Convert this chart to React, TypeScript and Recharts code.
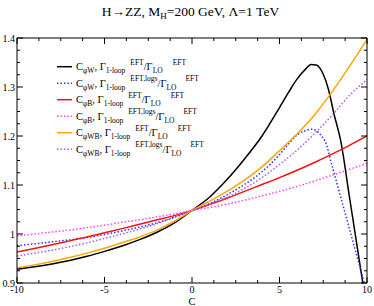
import React from 'react';
import { LineChart, Line, XAxis, YAxis } from 'recharts';

const W = 374;
const H = 306;
const SERIF = "'Liberation Serif', 'Times New Roman', serif";

// ---- data ----
const C_GRID = [-10, -9, -8, -7, -6, -5, -4, -3, -2, -1, 0, 1, 2, 3, 4, 5, 6, 7, 8, 9, 10];

const C_PHIW_1LOOP = [-10, -9, -8, -7, -6, -5, -4, -3, -2, -1, 0, 1, 2, 3, 4, 5, 5.5, 6, 6.5, 6.8, 7.1, 7.5, 7.8, 8.1, 8.5, 9, 9.5, 10];
const R_PHIW_1LOOP = [0.928, 0.933, 0.939, 0.946, 0.9545, 0.9645, 0.9755, 0.9885, 1.0035, 1.0225, 1.048, 1.075, 1.111, 1.153, 1.2, 1.258, 1.288, 1.316, 1.337, 1.346, 1.345, 1.326, 1.295, 1.247, 1.19, 1.075, 0.96, 0.845];

const C_PHIW_LOGS = [-10, -9, -8, -7, -6, -5, -4, -3, -2, -1, 0, 1, 2, 3, 4, 5, 5.5, 6, 6.5, 6.8, 7.1, 7.4, 7.6, 8, 8.5, 9, 9.5, 10];
const R_PHIW_LOGS = [0.976, 0.98, 0.984, 0.988, 0.993, 0.999, 1.006, 1.014, 1.023, 1.034, 1.048, 1.062, 1.08, 1.101, 1.127, 1.162, 1.183, 1.202, 1.211, 1.214, 1.211, 1.2, 1.19, 1.14, 1.075, 1.01, 0.945, 0.88];

const R_PHIB_1LOOP = [0.963, 0.9705, 0.978, 0.986, 0.994, 1.0025, 1.011, 1.02, 1.029, 1.0375, 1.048, 1.06, 1.073, 1.087, 1.101, 1.115, 1.13, 1.146, 1.163, 1.181, 1.2];
const R_PHIB_LOGS = [0.996, 1.0, 1.004, 1.008, 1.013, 1.018, 1.024, 1.029, 1.035, 1.041, 1.048, 1.054, 1.061, 1.069, 1.078, 1.087, 1.097, 1.108, 1.12, 1.132, 1.144];
const R_PHIWB_1LOOP = [0.931, 0.937, 0.944, 0.952, 0.961, 0.971, 0.982, 0.994, 1.008, 1.026, 1.048, 1.067, 1.087, 1.11, 1.137, 1.17, 1.204, 1.243, 1.29, 1.342, 1.397];
const R_PHIWB_LOGS = [0.955, 0.961, 0.967, 0.974, 0.982, 0.991, 1.0, 1.01, 1.021, 1.035, 1.048, 1.061, 1.075, 1.093, 1.115, 1.142, 1.171, 1.205, 1.242, 1.283, 1.315];

const X_MAJOR = [-10, -5, 0, 5, 10];
const X_MINOR = [-8.75, -7.5, -6.25, -3.75, -2.5, -1.25, 1.25, 2.5, 3.75, 6.25, 7.5, 8.75];
const Y_MAJOR = [0.9, 1.0, 1.1, 1.2, 1.3, 1.4];
const Y_MINOR = [0.925, 0.95, 0.975, 1.025, 1.05, 1.075, 1.125, 1.15, 1.175, 1.225, 1.25, 1.275, 1.325, 1.35, 1.375];

const COEFS = ['φW', 'φW', 'φB', 'φB', 'φWB', 'φWB'];
const KINDS = ['EFT', 'EFT,logs', 'EFT', 'EFT,logs', 'EFT', 'EFT,logs'];
const COLORS = ['#000000', '#2f2fff', '#ff1010', '#ff40ff', '#ffa500', '#a060f0'];
const DOTTED = [false, true, false, true, false, true];

const zip = (cs: number[], rs: number[]) => cs.map((c, i) => ({ c, r: rs[i] }));

const SERIES = [
  zip(C_PHIW_1LOOP, R_PHIW_1LOOP),
  zip(C_PHIW_LOGS, R_PHIW_LOGS),
  zip(C_GRID, R_PHIB_1LOOP),
  zip(C_GRID, R_PHIB_LOGS),
  zip(C_GRID, R_PHIWB_1LOOP),
  zip(C_GRID, R_PHIWB_LOGS),
];

// frame data so that the decoration-only axes have a domain
const FRAME = C_GRID.map((c, i) => ({ c, r: R_PHIB_LOGS[i] }));

const EmptyTick = () => <g />;
const THIN = 0.01;

const LegendRow = ({ i, y }: { i: number; y: number }) => {
  const main = 10.5;
  const small = 7.5;
  const logs = KINDS[i] !== 'EFT';
  return (
    <g>
      <line x1={57} x2={72} y1={y} y2={y} stroke={COLORS[i]} strokeWidth={1.5}
        strokeDasharray={DOTTED[i] ? '1.5 2' : undefined} />
      <text x={76} y={y + 3.5} fontFamily={SERIF} fontSize={main} fill="#000">
        C
        <tspan fontSize={small} dy={3}>{COEFS[i]}</tspan>
        <tspan fontSize={main} dy={-3}>, Γ</tspan>
        <tspan fontSize={small} dy={3}>1-loop</tspan>
        <tspan fontSize={small} dy={-8.5} dx={5}>{KINDS[i]}</tspan>
        <tspan fontSize={main} dy={5.5}>/Γ</tspan>
        <tspan fontSize={small} dy={3}>LO</tspan>
        <tspan fontSize={small} dy={-8.5} dx={logs ? 9 : 10}>EFT</tspan>
      </text>
    </g>
  );
};

const ROW_Y = [66.7, 83.2, 99.7, 116.2, 132.7, 149.2];

export default function App() {
  const tickStyle = { fontSize: 10, fill: '#000', fontFamily: SERIF };
  const dom: [number, number] = [-10, 10];
  const ydom: [number, number] = [0.9, 1.4];
  const tl = { stroke: '#000' };
  return (
    <div style={{ position: 'relative', width: W, height: H, background: '#fff' }}>
      <style>{'body{margin:0}'}</style>
      <LineChart width={W} height={H} data={FRAME} style={{ fontFamily: SERIF }}
        margin={{ top: 38, right: 7, left: 0, bottom: 0 }}>
        <XAxis xAxisId="b" type="number" dataKey="c" domain={dom} ticks={X_MAJOR} interval={0}
          orientation="bottom" height={23} tickLine={false} tickSize={0} tickMargin={3}
          axisLine={tl} tick={tickStyle} allowDataOverflow
          tickFormatter={(v: number) => String(v)} />
        <XAxis xAxisId="bM" type="number" dataKey="c" domain={dom} ticks={X_MAJOR} interval={0}
          orientation="bottom" mirror height={THIN} tickSize={6} tick={EmptyTick} axisLine={false}
          tickLine={tl} allowDataOverflow />
        <XAxis xAxisId="bm" type="number" dataKey="c" domain={dom} ticks={X_MINOR} interval={0}
          orientation="bottom" mirror height={THIN} tickSize={3} tick={EmptyTick} axisLine={false}
          tickLine={tl} allowDataOverflow />
        <XAxis xAxisId="tM" type="number" dataKey="c" domain={dom} ticks={X_MAJOR} interval={0}
          orientation="top" mirror height={THIN} tickSize={6} tick={EmptyTick} axisLine={tl}
          tickLine={tl} allowDataOverflow />
        <XAxis xAxisId="tm" type="number" dataKey="c" domain={dom} ticks={X_MINOR} interval={0}
          orientation="top" mirror height={THIN} tickSize={3} tick={EmptyTick} axisLine={false}
          tickLine={tl} allowDataOverflow />

        <YAxis yAxisId="l" type="number" dataKey="r" domain={ydom} ticks={Y_MAJOR} interval={0}
          orientation="left" width={17} tickLine={false} tickSize={0} tickMargin={2}
          axisLine={tl} tick={tickStyle} allowDataOverflow
          tickFormatter={(v: number) => (Math.abs(v - 1) < 1e-9 ? '1' : v.toFixed(1))} />
        <YAxis yAxisId="lM" type="number" dataKey="r" domain={ydom} ticks={Y_MAJOR} interval={0}
          orientation="left" mirror width={THIN} tickSize={6} tick={EmptyTick} axisLine={false}
          tickLine={tl} allowDataOverflow />
        <YAxis yAxisId="lm" type="number" dataKey="r" domain={ydom} ticks={Y_MINOR} interval={0}
          orientation="left" mirror width={THIN} tickSize={3} tick={EmptyTick} axisLine={false}
          tickLine={tl} allowDataOverflow />
        <YAxis yAxisId="rM" type="number" dataKey="r" domain={ydom} ticks={Y_MAJOR} interval={0}
          orientation="right" mirror width={THIN} tickSize={6} tick={EmptyTick} axisLine={tl}
          tickLine={tl} allowDataOverflow />
        <YAxis yAxisId="rm" type="number" dataKey="r" domain={ydom} ticks={Y_MINOR} interval={0}
          orientation="right" mirror width={THIN} tickSize={3} tick={EmptyTick} axisLine={false}
          tickLine={tl} allowDataOverflow />

        {SERIES.map((d, i) => (
          <Line key={i} data={d} dataKey="r" xAxisId="b" yAxisId="l" type="monotone"
            stroke={COLORS[i]} strokeWidth={1.5} dot={false} activeDot={false}
            strokeDasharray={DOTTED[i] ? '1.5 2' : undefined}
            isAnimationActive={false} />
        ))}
      </LineChart>
      <svg width={W} height={H} style={{ position: 'absolute', left: 0, top: 0, pointerEvents: 'none' }}>
        <text x={190.5} y={16} textAnchor="middle" fontFamily={SERIF} fontSize={13.5} fill="#000">
          H→ZZ, M<tspan fontSize={9} dy={3}>H</tspan><tspan dy={-3}>=200 GeV, Λ=1 TeV</tspan>
        </text>
        {ROW_Y.map((y, i) => <LegendRow key={i} i={i} y={y} />)}
        <text x={192} y={304.5} textAnchor="middle" fontFamily={SERIF} fontSize={10.5} fill="#000">C</text>
      </svg>
    </div>
  );
}
